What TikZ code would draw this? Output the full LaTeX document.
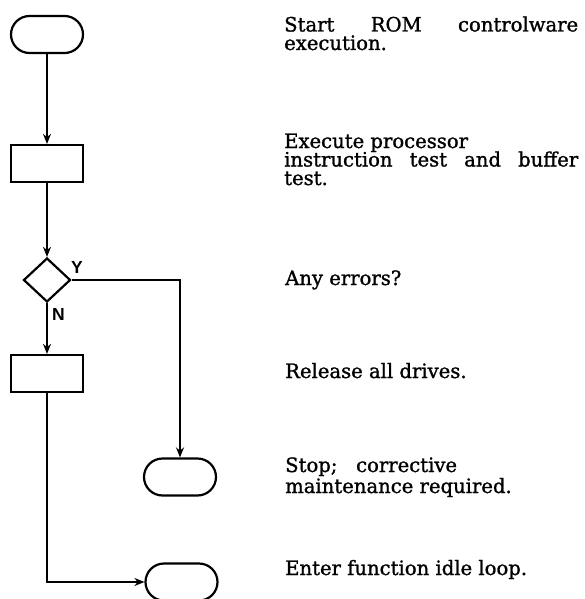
\documentclass[tikz,border=0pt]{standalone}
\usepackage{fontspec}
\setmainfont[FakeBold=1.2,FakeStretch=0.99]{DejaVu Serif}
\setsansfont{Liberation Sans}
\usetikzlibrary{shapes.misc,shapes.geometric,arrows.meta}
\begin{document}
\begin{tikzpicture}[x=1pt,y=-1pt,
  box/.style={draw,line width=2.2pt,minimum width=72pt,minimum height=37pt,inner sep=0pt},
  term/.style={box,rounded rectangle},
  proc/.style={box,rectangle},
  dec/.style={draw,line width=2.2pt,diamond,minimum width=47pt,minimum height=44pt,inner sep=0pt},
  flow/.style={line width=2pt,-{Stealth[length=10pt,width=8pt]}},
  desc/.style={anchor=base west,inner sep=0pt,font=\fontsize{19.8}{19.8}\selectfont},
  yn/.style={inner sep=0pt,font=\sffamily\bfseries\fontsize{17.5}{17.5}\selectfont}]
\useasboundingbox (0,0) rectangle (584,599);
\node[term] (start) at (47,34.5) {};
\node[proc] (p1) at (47,163.5) {};
\node[dec] (d) at (47,280) {};
\node[proc] (p2) at (47,373.5) {};
\node[term] (stop) at (180,477) {};
\node[term] (idle) at (181.5,582) {};
\draw[flow] (start) -- (p1);
\draw[flow] (p1) -- (d);
\draw[flow] (d.east) -| (stop.north);
\draw[flow] (d) -- (p2);
\draw[flow] (p2.south) |- (idle.west);
\node[yn] (ly) at (77,267) {Y};
\node[yn] (ln) at (58.5,314) {N};
\node[desc] (t1a) at (284,31.5) {\hbox to 294pt{Start\hfill ROM\hfill controlware}};
\node[desc] (t1b) at (284,50) {execution.};
\node[desc] (t2a) at (284,148) {Execute processor};
\node[desc] (t2b) at (284,166.5) {\hbox to 294pt{instruction\hfill test\hfill and\hfill buffer}};
\node[desc] (t2c) at (284,185) {test.};
\node[desc] (t3) at (285,285) {Any errors?};
\node[desc] (t4) at (285,378) {Release all drives.};
\node[desc] (t5a) at (285,472) {Stop;\ \ \ corrective};
\node[desc] (t5b) at (285,493) {maintenance required.};
\node[desc] (t6) at (285,575) {Enter function idle loop.};
\end{tikzpicture}
\end{document}
